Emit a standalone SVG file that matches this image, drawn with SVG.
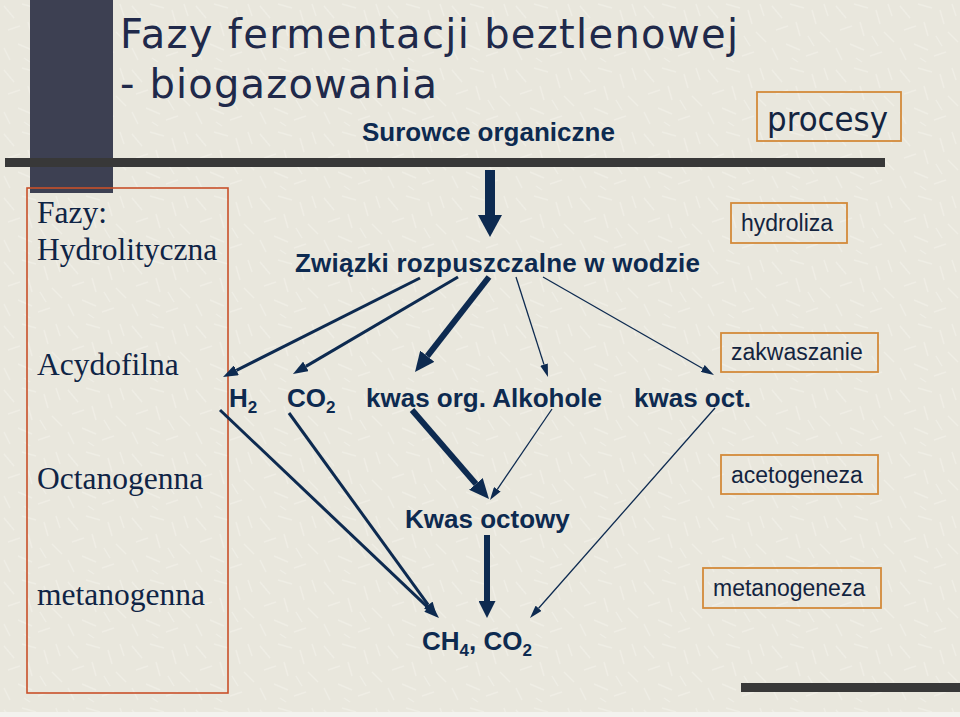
<svg xmlns="http://www.w3.org/2000/svg" width="960" height="717" viewBox="0 0 960 717">
<style>
.title{font-family:"DejaVu Sans","Open Sans",sans-serif;font-size:40px;fill:#20294a}
.phase{font-family:"Liberation Serif","Times New Roman",serif;font-size:31.5px;fill:#0f2445}
.lbl{font-family:"Liberation Sans",Arial,sans-serif;font-size:26px;font-weight:bold;fill:#0d2a50}
.sub{font-size:17px}
.proc{font-family:"Liberation Sans",Arial,sans-serif;font-size:23px;fill:#13243f}
.box{fill:none;stroke:#d38a3a;stroke-width:1.8}
.ln{stroke:#0d2a50;fill:none;stroke-linecap:butt}
.big{stroke-width:10}
.down{stroke-width:6}
.thick{stroke-width:6}
.med{stroke-width:3}
.thin{stroke-width:1.3}
</style>
<defs>
<pattern id="tex" width="64" height="64" patternUnits="userSpaceOnUse">
<g stroke="#f6f5ef" stroke-width="1.4" opacity="0.45">
<line x1="4" y1="6" x2="14" y2="18"/><line x1="22" y1="4" x2="36" y2="8"/><line x1="44" y1="10" x2="48" y2="24"/>
<line x1="8" y1="30" x2="20" y2="26"/><line x1="28" y1="22" x2="32" y2="36"/><line x1="52" y1="32" x2="62" y2="42"/>
<line x1="4" y1="48" x2="10" y2="60"/><line x1="18" y1="44" x2="32" y2="50"/><line x1="38" y1="56" x2="50" y2="52"/>
<line x1="40" y1="36" x2="46" y2="46"/><line x1="56" y1="4" x2="60" y2="16"/><line x1="24" y1="58" x2="30" y2="62"/>
</g>
</pattern>
<marker id="mBig" viewBox="0 -12 22 24" markerWidth="22" markerHeight="24" refX="0" refY="0" orient="auto" markerUnits="userSpaceOnUse"><path d="M0,-12 L22,0 L0,12 Z" fill="#0d2a50"/></marker>
<marker id="mDown" viewBox="0 -8.5 17 17" markerWidth="17" markerHeight="17" refX="0" refY="0" orient="auto" markerUnits="userSpaceOnUse"><path d="M0,-8.5 L17,0 L0,8.5 Z" fill="#0d2a50"/></marker>
<marker id="mThick" viewBox="0 -9 20 18" markerWidth="20" markerHeight="18" refX="0" refY="0" orient="auto" markerUnits="userSpaceOnUse"><path d="M0,-9 L20,0 L0,9 Z" fill="#0d2a50"/></marker>
<marker id="mMed" viewBox="0 -5.5 15 11" markerWidth="15" markerHeight="11" refX="0" refY="0" orient="auto" markerUnits="userSpaceOnUse"><path d="M0,-5.5 L15,0 L0,5.5 Z" fill="#0d2a50"/></marker>
<marker id="mThin" viewBox="0 -4 13 8" markerWidth="13" markerHeight="8" refX="0" refY="0" orient="auto" markerUnits="userSpaceOnUse"><path d="M0,-4 L13,0 L0,4 Z" fill="#0d2a50"/></marker>
</defs>

<rect x="0" y="0" width="960" height="717" fill="#e9e7dd"/>
<rect x="0" y="0" width="960" height="717" fill="url(#tex)"/>
<rect x="0" y="712" width="960" height="5" fill="#f3f2ee"/>

<g id="decor">
<rect x="30" y="0" width="83" height="193" fill="#3d4052"/>
<rect x="5" y="158" width="880" height="9" fill="#383838"/>
<rect x="741" y="683" width="219" height="9" fill="#383838"/>
</g>

<g id="title">
<text class="title" x="120" y="48" textLength="618" lengthAdjust="spacing">Fazy fermentacji beztlenowej</text>
<text class="title" x="120" y="98" textLength="317" lengthAdjust="spacing">- biogazowania</text>
</g>

<g id="phases">
<rect x="27" y="188" width="201" height="505" fill="none" stroke="#c8502a" stroke-width="1.6"/>
<text class="phase" x="37" y="223">Fazy:</text>
<text class="phase" x="37" y="260">Hydrolityczna</text>
<text class="phase" x="37" y="375">Acydofilna</text>
<text class="phase" x="37" y="489">Octanogenna</text>
<text class="phase" x="37" y="605">metanogenna</text>
</g>

<g id="procesy">
<rect class="box" x="757" y="92" width="144" height="49"/>
<text x="767" y="131" font-family="DejaVu Sans, Open Sans, sans-serif" font-size="34" fill="#13243f" textLength="121" lengthAdjust="spacingAndGlyphs">procesy</text>
</g>
<g id="hydroliza">
<rect class="box" x="731" y="203" width="116" height="40"/>
<text class="proc" x="741" y="231">hydroliza</text>
</g>
<g id="zakwaszanie">
<rect class="box" x="721" y="333" width="157" height="39"/>
<text class="proc" x="731" y="360">zakwaszanie</text>
</g>
<g id="acetogeneza">
<rect class="box" x="721" y="455" width="157" height="39"/>
<text class="proc" x="731" y="483">acetogeneza</text>
</g>
<g id="metanogeneza">
<rect class="box" x="703" y="568" width="178" height="40"/>
<text class="proc" x="713" y="596">metanogeneza</text>
</g>

<g id="surowce"><text class="lbl" x="362" y="141">Surowce organiczne</text></g>
<g id="zwiazki"><text class="lbl" x="295" y="272" textLength="405" lengthAdjust="spacing">Związki rozpuszczalne w wodzie</text></g>
<g id="h2"><text class="lbl" x="229" y="407">H<tspan class="sub" dy="6">2</tspan></text></g>
<g id="co2"><text class="lbl" x="287" y="407">CO<tspan class="sub" dy="6">2</tspan></text></g>
<g id="kwasorg"><text class="lbl" x="366" y="407">kwas org. Alkohole</text></g>
<g id="kwasoct"><text class="lbl" x="634" y="407">kwas oct.</text></g>
<g id="kwasoctowy"><text class="lbl" x="405" y="528">Kwas octowy</text></g>
<g id="ch4"><text class="lbl" x="422" y="650">CH<tspan class="sub" dy="6">4</tspan><tspan dy="-6">, CO</tspan><tspan class="sub" dy="6">2</tspan></text></g>

<g id="connectors">
<line class="ln big" x1="490" y1="170" x2="490" y2="215" marker-end="url(#mBig)"/>
<line class="ln med" x1="420" y1="278" x2="236.4" y2="370.3" marker-end="url(#mMed)"/>
<line class="ln med" x1="458" y1="277" x2="305.9" y2="366.4" marker-end="url(#mMed)"/>
<line class="ln thick" x1="489" y1="277" x2="427.3" y2="356.2" marker-end="url(#mThick)"/>
<line class="ln thin" x1="516" y1="277" x2="544" y2="364.6" marker-end="url(#mThin)"/>
<line class="ln thin" x1="543" y1="277" x2="702.7" y2="368.5" marker-end="url(#mThin)"/>
<line class="ln med" x1="220" y1="410" x2="428.1" y2="607.7" marker-end="url(#mMed)"/>
<line class="ln med" x1="289" y1="413" x2="428.2" y2="604.9" marker-end="url(#mMed)"/>
<line class="ln thick" x1="412" y1="410" x2="475.9" y2="483.9" marker-end="url(#mThick)"/>
<line class="ln thin" x1="552" y1="409" x2="497.3" y2="489.3" marker-end="url(#mThin)"/>
<line class="ln down" x1="487" y1="535" x2="487" y2="601" marker-end="url(#mDown)"/>
<line class="ln thin" x1="715" y1="408" x2="538.6" y2="608.3" marker-end="url(#mThin)"/>
</g>
</svg>
